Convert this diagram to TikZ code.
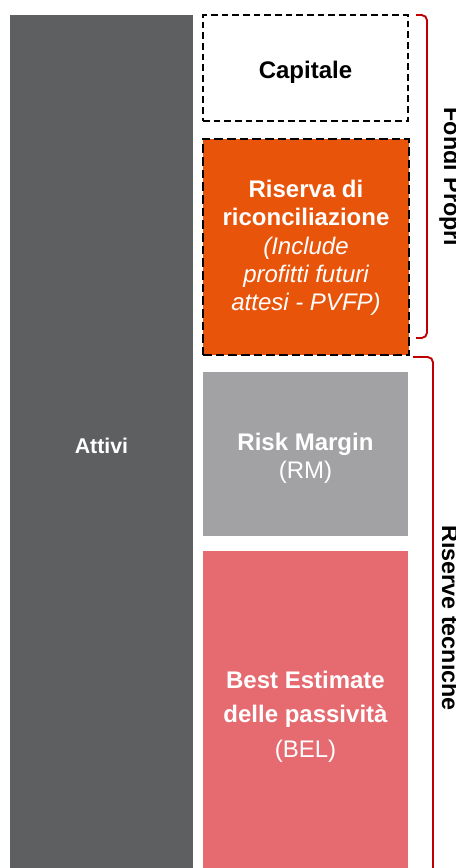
\documentclass[tikz,border=0pt]{standalone}
\usepackage{fontspec}
\setmainfont{Liberation Sans}
\usetikzlibrary{positioning,calc}
\definecolor{attivigray}{RGB}{ 94,  95,  97}
\definecolor{riservaorg}{RGB}{232,  84,  10}
\definecolor{rmgray}    {RGB}{162, 162, 164}
\definecolor{belred}    {RGB}{229, 107, 112}
\definecolor{brkred}    {RGB}{192,   0,   0}
\newcommand{\noteit}[1]{{\mdseries\itshape #1}}

\begin{document}
\begin{tikzpicture}[
  x=0.75pt,y=-0.75pt,
  every node/.style={inner sep=0pt,outer sep=0pt},
  blk/.style={minimum width=153.75pt,draw=none},
  lbl/.style={font=\fontsize{18}{21.2}\selectfont\bfseries,align=center,text=white},
  brk/.style={draw=brkred,line width=1.4pt,rounded corners=4pt},
  side/.style={font=\fontsize{17.5}{21.2}\selectfont\bfseries,rotate=-90,anchor=base},
]
\useasboundingbox (0,0) rectangle (456,868);

%% Attivi column
\node[fill=attivigray,minimum width=137.25pt,minimum height=639.75pt] (att) at (101.5,441.5) {};
\node[lbl,font=\fontsize{16}{19}\selectfont\bfseries] (atttxt) at (101.5,446) {Attivi};

%% Fondi propri boxes
\node[blk,fill=white,draw=black,line width=1.1pt,dash pattern=on 5pt off 3pt,
      minimum height=79.5pt] (cap) at (305.5,68) {};
\node[lbl,text=black] (captxt) at (305.5,72) {Capitale};

\node[blk,fill=riservaorg,draw=black,line width=2.2pt,dash pattern=on 6.5pt off 3pt,
      minimum width=154.5pt,minimum height=162pt] (ris) at (306,247) {};
\node[lbl] (ristxt) at (306,248)
  {Riserva di\\riconciliazione\\\noteit{(Include}\\\noteit{profitti futuri}\\\noteit{attesi - PVFP)}};

%% Riserve tecniche boxes
\node[blk,fill=rmgray,minimum height=123pt] (rm) at (305.5,454) {};
\node[lbl] (rmtxt) at (305.5,458.5) {Risk Margin\\\mdseries (RM)};

\node[blk,fill=belred,minimum height=237.75pt] (bel) at (305.5,709.5) {};
\node[lbl,font=\fontsize{18}{26}\selectfont\bfseries] (beltxt) at (305.5,716.5)
  {Best Estimate\\delle passività\\\mdseries (BEL)};

%% Brackets and side labels
\draw[brk] (416,15) -| (427,338) -- (416,338);
\node[side] (fp) at (444,177) {Fondi Propri};

\draw[brk] (413,357) -| (433,870);
\node[side] (rt) at (442,618) {Riserve tecniche};

\end{tikzpicture}
\end{document}
